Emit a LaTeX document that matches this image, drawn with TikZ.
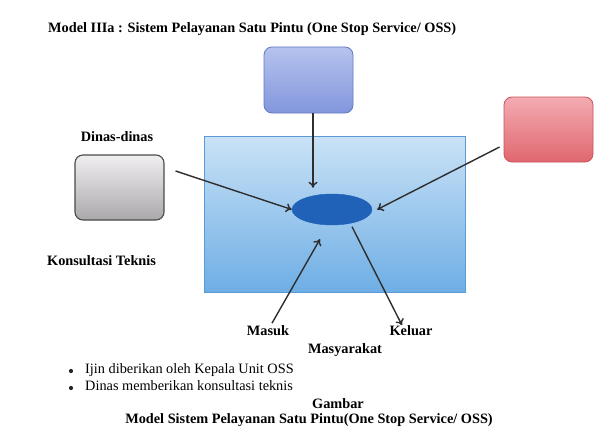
\documentclass[tikz,border=0pt]{standalone}
\usepackage{fontspec}
\setmainfont{Liberation Serif}
\usetikzlibrary{shapes.geometric,arrows.meta}
\definecolor{panelborder}{HTML}{5B9BD5}
\definecolor{paneltop}{HTML}{CAE2F6}
\definecolor{panelbot}{HTML}{6EAEE5}
\definecolor{bluetop}{HTML}{B6C3EE}
\definecolor{bluebot}{HTML}{8296DC}
\definecolor{blueline}{HTML}{6478C4}
\definecolor{redtop}{HTML}{F4ABB2}
\definecolor{redbot}{HTML}{E0676F}
\definecolor{redline}{HTML}{C9545C}
\definecolor{graytop}{HTML}{F0EEF0}
\definecolor{graybot}{HTML}{ABA8AB}
\definecolor{grayline}{HTML}{4A4A4A}
\definecolor{ellfill}{HTML}{1F62B8}
\definecolor{arrc}{HTML}{2E2E2E}
\tikzset{
  txt/.style={inner sep=0pt, font=\fontsize{14.3}{17}\selectfont, text height=0.7em, text depth=0.22em},
  btxt/.style={txt, font=\fontsize{14.3}{17}\selectfont\bfseries},
  rbox/.style={rounded corners=8pt, minimum width=89pt, line width=0.8pt},
  arr/.style={draw=arrc, line width=1.4pt, -{To[length=6pt,width=9pt]}},
  dot/.style={circle, fill=black!85, inner sep=0pt, minimum size=4.2pt}
}
\begin{document}
\begin{tikzpicture}[x=1pt,y=-1pt]
\useasboundingbox (0,0) rectangle (613,436);
\fill[white] (0,0) rectangle (613,436);
% title
\node[btxt, anchor=west] (title) at (48,30) {Model IIIa : Sistem Pelayanan Satu Pintu (One Stop Service/ OSS)};
% big light blue rectangle
\node[draw=panelborder, line width=0.8pt, top color=paneltop, bottom color=panelbot,
      minimum width=261pt, minimum height=156pt, inner sep=0pt] (panel) at (334.5,214) {};
% boxes
\node[rbox, draw=blueline, top color=bluetop, bottom color=bluebot, minimum height=66pt] (blue) at (308.5,80) {};
\node[rbox, draw=redline, top color=redtop, bottom color=redbot, minimum height=65pt] (red) at (548.5,129.5) {};
\node[rbox, draw=grayline, line width=1.1pt, top color=graytop, bottom color=graybot, minimum height=65pt] (gray) at (119.5,187.5) {};
% ellipse
\node[ellipse, fill=ellfill, draw=ellfill, minimum width=80pt, minimum height=31pt, inner sep=0pt] (ell) at (332,209.5) {};
% labels
\node[btxt] (dinas) at (117,139) {Dinas-dinas};
\node[btxt, anchor=west] (konsul) at (47,263) {Konsultasi Teknis};
\node[btxt] (masuk) at (268,333) {Masuk};
\node[btxt] (keluar) at (411,333) {Keluar};
\node[btxt] (masy) at (345,351) {Masyarakat};
\node[dot] (d1) at (71,371) {};
\node[dot] (d2) at (71,388) {};
\node[txt, anchor=west] (b1) at (85,371) {Ijin diberikan oleh Kepala Unit OSS};
\node[txt, anchor=west] (b2) at (85,388) {Dinas memberikan konsultasi teknis};
\node[btxt] (gambar) at (338,406) {Gambar};
\node[btxt] (caption) at (309,421) {Model Sistem Pelayanan Satu Pintu(One Stop Service/ OSS)};
% connectors
\coordinate (tx) at (313,0);
\draw[arr, shorten >=6pt] (blue.south -| tx) -- (ell.north -| tx);
\draw[arr] ([shift={(11,-16.5)}]gray.east) -- (ell.west);
\draw[arr] ([shift={(-4,17.5)}]red.west) -- ([xshift=5pt]ell.east);
\draw[arr] ([shift={(4,-5)}]masuk.north) -- ([shift={(-12,14)}]ell.south);
\draw[arr] ([shift={(20,1.5)}]ell.south) -- ([shift={(-9,-3)}]keluar.north);
\end{tikzpicture}
\end{document}
